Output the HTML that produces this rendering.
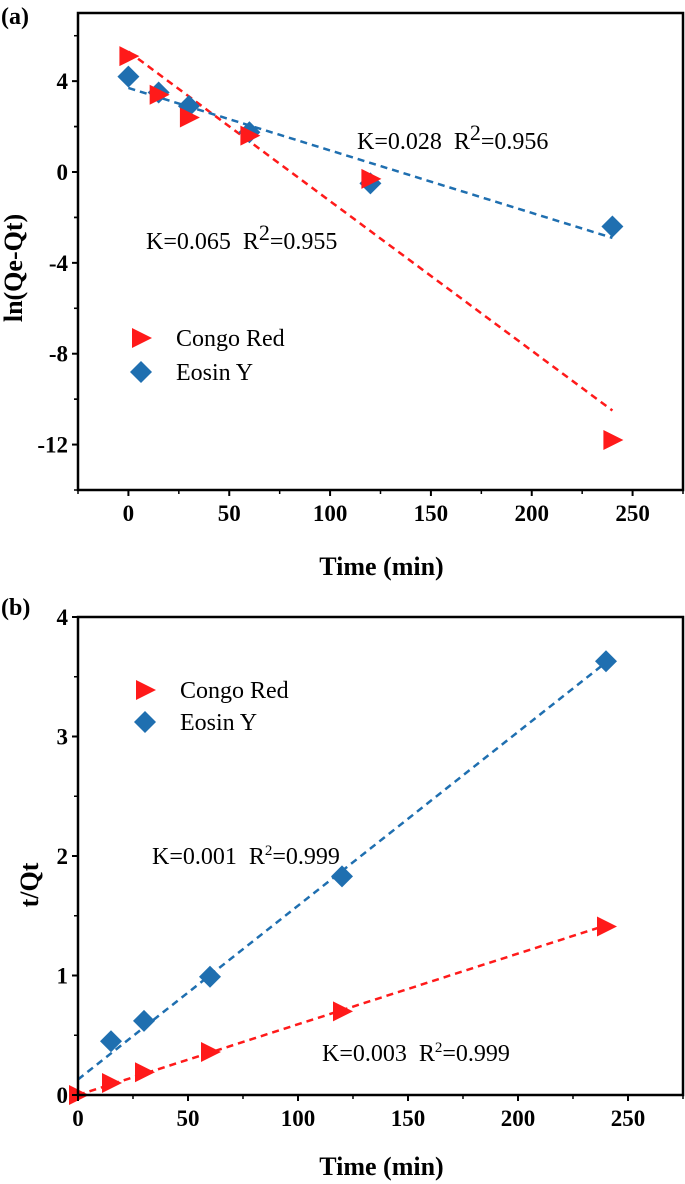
<!DOCTYPE html>
<html><head><meta charset="utf-8"><style>
html,body{margin:0;padding:0;background:#fff;}
svg{display:block;font-family:"Liberation Serif",serif;}
</style></head><body>
<svg id="chart" width="685" height="1184" viewBox="0 0 685 1184" xmlns="http://www.w3.org/2000/svg"></svg>
<script>
// Panel (a) data
const aTime = [0, 15, 30, 60, 120, 240];
const aCongo = [5.1, 3.4, 2.4, 1.6, -0.3, -11.8];
const aEosin = [4.2, 3.5, 2.9, 1.75, -0.5, -2.4];
const aCongoFit = [5.3, -10.5];
const aEosinFit = [3.7, -2.9];
const aXTicks = [0, 50, 100, 150, 200, 250];
const aYTicks = [4, 0, -4, -8, -12];
// Panel (b) data
const bCongoTime = [0, 15, 30, 60, 120, 240];
const bCongo = [0, 0.1, 0.19, 0.36, 0.7, 1.41];
const bEosinTime = [15, 30, 60, 120, 240];
const bEosin = [0.45, 0.62, 0.99, 1.83, 3.63];
const bCongoFit = [0, 1.42];
const bEosinFit = [0.13, 3.62];
const fitRange = [0, 240];
const bXTicks = [0, 50, 100, 150, 200, 250];
const bYTicks = [0, 1, 2, 3, 4];

const svg = document.getElementById('chart');
const NS = 'http://www.w3.org/2000/svg';
function mk(tag, attrs, parent) {
  const e = document.createElementNS(NS, tag);
  for (const k in attrs) e.setAttribute(k, attrs[k]);
  (parent || svg).appendChild(e);
  return e;
}
const RED = '#ff1a1a', BLUE = '#1f6fb0';

function tri(g, x, y) {
  const p = mk('polygon', {points: `${x-9},${y-10} ${x+11},${y} ${x-9},${y+10}`, fill: RED}, g);
  
  
}
function dia(g, x, y) {
  const p = mk('polygon', {points: `${x},${y-11} ${x+11},${y} ${x},${y+11} ${x-11},${y}`, fill: BLUE}, g);
  
  
}

function panel(cfg) {
  const g = mk('g', {});
  
  
  const {L, R, T, B, xmin, xmax, ymin, ymax} = cfg;
  const X = v => L + (v - xmin) / (xmax - xmin) * (R - L);
  const Y = v => B - (v - ymin) / (ymax - ymin) * (B - T);
  const fits = [[cfg.cFit, RED, 'congo-red-fit-line'], [cfg.eFit, BLUE, 'eosin-y-fit-line']];
  fits.forEach(([f, c, n]) => {
    const l = mk('line', {x1: X(fitRange[0]), y1: Y(f[0]), x2: X(fitRange[1]), y2: Y(f[1]), stroke: c, 'stroke-width': 2.5, 'stroke-dasharray': '7,5'}, g);
    
    
  });
  cfg.eT.forEach((t, i) => dia(g, X(t), Y(cfg.e[i])));
  cfg.cT.forEach((t, i) => tri(g, X(t), Y(cfg.c[i])));
  const fr = mk('rect', {x: L, y: T, width: R - L, height: B - T, fill: 'none', stroke: '#000', 'stroke-width': 2.5}, g);
  
  
  cfg.xTicks.forEach(v => {
    mk('line', {x1: X(v), y1: B, x2: X(v), y2: B + 6, stroke: '#000', 'stroke-width': 2}, g);
    mk('line', {x1: X(v + 25), y1: B, x2: X(v + 25), y2: B + 4, stroke: '#000', 'stroke-width': 1.5}, g);
    if (v === 0 && xmin < 0) mk('line', {x1: X(-25), y1: B, x2: X(-25), y2: B + 4, stroke: '#000', 'stroke-width': 1.5}, g);
    const t = mk('text', {x: X(v), y: B + 31, 'text-anchor': 'middle', 'font-size': 23, 'font-weight': 'bold'}, g);
    t.textContent = v;
    
    
  });
  cfg.yTicks.forEach(v => {
    mk('line', {x1: L, y1: Y(v), x2: L - 6, y2: Y(v), stroke: '#000', 'stroke-width': 2}, g);
    const h = cfg.yStep / 2;
    if (v + h <= ymax) mk('line', {x1: L, y1: Y(v + h), x2: L - 4, y2: Y(v + h), stroke: '#000', 'stroke-width': 1.5}, g);
    if (v - h >= ymin) mk('line', {x1: L, y1: Y(v - h), x2: L - 4, y2: Y(v - h), stroke: '#000', 'stroke-width': 1.5}, g);
    const t = mk('text', {x: L - 10, y: Y(v) + 8, 'text-anchor': 'end', 'font-size': 23, 'font-weight': 'bold'}, g);
    t.textContent = v;
    
    
  });
  const xt = mk('text', {x: (L + R) / 2 + 1, y: cfg.xTitleY, 'text-anchor': 'middle', 'font-size': 26, 'font-weight': 'bold'}, g);
  xt.textContent = 'Time (min)';
  
  
  const yt = mk('text', {x: 0, y: 0, 'text-anchor': 'middle', 'font-size': 26, 'font-weight': 'bold', transform: `translate(${cfg.yTitleX},${cfg.yTitleY}) rotate(-90)`}, g);
  yt.textContent = cfg.yTitle;
  
  
  const pl = mk('text', {x: 1, y: cfg.labelY, 'font-size': 24, 'font-weight': 'bold'}, g);
  pl.textContent = cfg.label;
  
  
  const lg = mk('g', {}, g);
  
  
  tri(lg, cfg.legX, cfg.legY);
  dia(lg, cfg.legX, cfg.legY + cfg.legGap);
  const l1 = mk('text', {x: cfg.legX + 35, y: cfg.legY + 8, 'font-size': 24}, lg);
  l1.textContent = 'Congo Red';
  
  
  const l2 = mk('text', {x: cfg.legX + 35, y: cfg.legY + cfg.legGap + 8, 'font-size': 24}, lg);
  l2.textContent = 'Eosin Y';
  
  
  cfg.ann.forEach(a => {
    const t = mk('text', {x: a[0], y: a[1], 'font-size': 24}, g);
    t.innerHTML = `K=${a[2]}&#160;&#160;R<tspan dy="-9" font-size="${a[5]}">2</tspan><tspan dy="9">=${a[3]}</tspan>`;
    
    
  });
}

panel({name: 'panel-a', L: 78, R: 683, T: 13, B: 490, xmin: -25, xmax: 275, ymin: -14, ymax: 7, yStep: 4,
  cT: aTime, c: aCongo, eT: aTime, e: aEosin, cFit: aCongoFit, eFit: aEosinFit,
  xTicks: aXTicks, yTicks: aYTicks, xTitleY: 575, yTitleX: 22, yTitleY: 268, yTitle: 'ln(Qe-Qt)',
  label: '(a)', labelY: 24, legX: 141, legY: 338, legGap: 34,
  ann: [[357, 149, '0.028', '0.956', 'annotation-eosin-y', 22], [146, 249, '0.065', '0.955', 'annotation-congo-red', 22]]});

panel({name: 'panel-b', L: 78, R: 683, T: 617, B: 1095, xmin: 0, xmax: 275, ymin: 0, ymax: 4, yStep: 1,
  cT: bCongoTime, c: bCongo, eT: bEosinTime, e: bEosin, cFit: bCongoFit, eFit: bEosinFit,
  xTicks: bXTicks, yTicks: bYTicks, xTitleY: 1175, yTitleX: 38, yTitleY: 885, yTitle: 't/Qt',
  label: '(b)', labelY: 615, legX: 145, legY: 690, legGap: 32,
  ann: [[152, 864, '0.001', '0.999', 'annotation-eosin-y', 15], [322, 1061, '0.003', '0.999', 'annotation-congo-red', 15]]});
</script>
</body></html>
